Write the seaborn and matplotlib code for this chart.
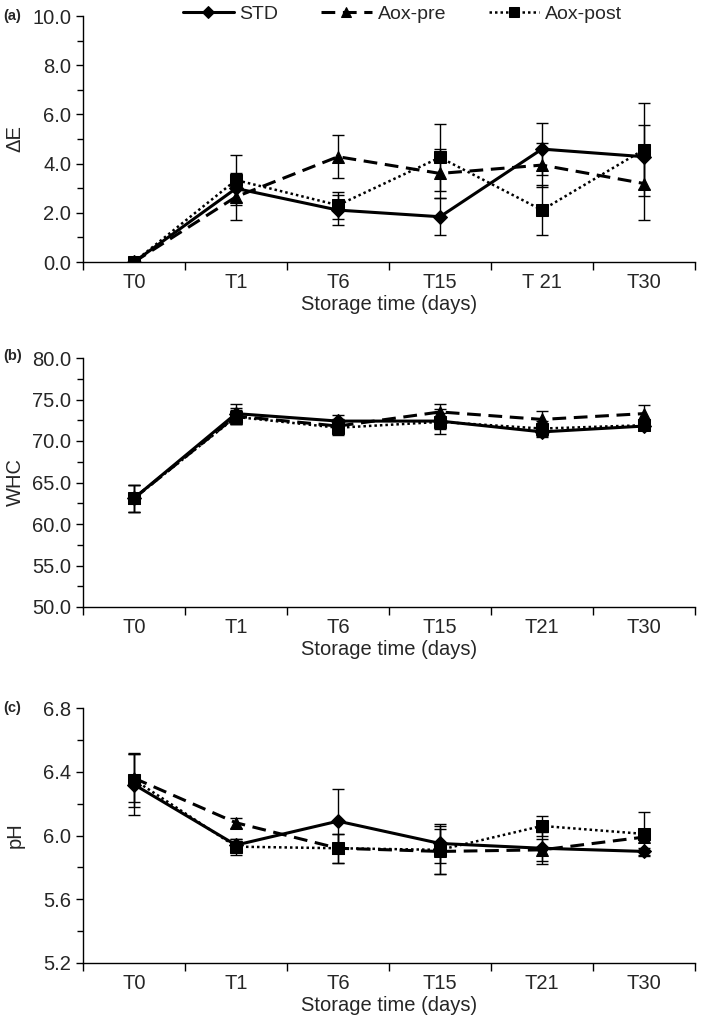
import numpy as np
import pandas as pd
import seaborn as sns
import matplotlib
matplotlib.use("Agg")
import matplotlib.pyplot as plt
from matplotlib.ticker import MultipleLocator, FixedLocator, FormatStrFormatter

sns.set_theme(style="ticks")
plt.rcParams['font.family'] = ['Liberation Sans', 'DejaVu Sans']

# ---------------- data ----------------
series = ["STD", "Aox-pre", "Aox-post"]
time_a = ["T0", "T1", "T6", "T15", "T 21", "T30"]
time_bc = ["T0", "T1", "T6", "T15", "T21", "T30"]

de_std = [0.0, 2.99, 2.11, 1.84, 4.59, 4.28]
de_std_err = [0.0, 0.55, 0.60, 0.75, 1.05, 1.30]
de_pre = [0.0, 2.65, 4.28, 3.60, 3.94, 3.19]
de_pre_err = [0.0, 0.95, 0.88, 1.00, 0.90, 1.50]
de_post = [0.0, 3.33, 2.31, 4.25, 2.11, 4.57]
de_post_err = [0.0, 1.00, 0.55, 1.35, 1.00, 1.90]

whc_std = [63.1, 73.3, 72.4, 72.4, 71.1, 71.8]
whc_std_err = [1.6, 1.2, 0.7, 1.0, 0.6, 0.5]
whc_pre = [63.1, 73.0, 71.8, 73.5, 72.6, 73.3]
whc_pre_err = [1.6, 1.0, 0.8, 1.0, 1.0, 1.0]
whc_post = [63.1, 72.9, 71.6, 72.3, 71.5, 71.9]
whc_post_err = [1.6, 0.8, 0.9, 1.5, 0.9, 0.6]

ph_std = [6.32, 5.94, 6.09, 5.95, 5.92, 5.90]
ph_std_err = [0.19, 0.04, 0.20, 0.12, 0.10, 0.02]
ph_pre = [6.36, 6.08, 5.92, 5.90, 5.91, 5.99]
ph_pre_err = [0.15, 0.03, 0.09, 0.14, 0.07, 0.02]
ph_post = [6.35, 5.93, 5.92, 5.91, 6.06, 6.01]
ph_post_err = [0.17, 0.05, 0.09, 0.15, 0.06, 0.14]

# ---------------- styles ----------------
styles = {
    "STD": dict(linestyle="-", marker="D", markersize=7, lw=2.2),
    "Aox-pre": dict(linestyle=(0, (4.5, 2.5)), marker="^", markersize=9, lw=2.2),
    "Aox-post": dict(linestyle=(0, (1, 1.2)), marker="s", markersize=9, lw=1.8),
}

FS = 14.5

fig = plt.figure(figsize=(7.09, 10.24), dpi=100)
L, W = 83 / 709, (695 - 83) / 709
ax_a = fig.add_axes([L, 1 - 262 / 1024, W, (262 - 16) / 1024])
ax_b = fig.add_axes([L, 1 - 607 / 1024, W, (607 - 358) / 1024])
ax_c = fig.add_axes([L, 1 - 963 / 1024, W, (963 - 708) / 1024])

panels = [
    (ax_a, time_a, [(de_std, de_std_err), (de_pre, de_pre_err), (de_post, de_post_err)],
     "\u0394E", (0, 10), 2.0, 1.0, "%.1f", "(a)", 16),
    (ax_b, time_bc, [(whc_std, whc_std_err), (whc_pre, whc_pre_err), (whc_post, whc_post_err)],
     "WHC", (50, 80), 5.0, 2.5, "%.1f", "(b)", 356),
    (ax_c, time_bc, [(ph_std, ph_std_err), (ph_pre, ph_pre_err), (ph_post, ph_post_err)],
     "pH", (5.2, 6.8), 0.4, 0.2, "%.1f", "(c)", 708),
]

for ax, cats, data, ylab, ylim, maj, mnr, fmt, tag, tag_y in panels:
    for name, (vals, errs) in zip(series, data):
        st = styles[name]
        ax.errorbar(cats, vals, yerr=errs, fmt="none", ecolor="black",
                    elinewidth=1.0, capsize=4, capthick=1.0, zorder=2)
        sns.lineplot(x=cats, y=vals, ax=ax, color="black", sort=False,
                     linestyle=st["linestyle"], linewidth=st["lw"],
                     marker=st["marker"], markersize=st["markersize"],
                     markeredgecolor="black", markerfacecolor="black",
                     label=name, zorder=3)
    if ax.get_legend() is not None:
        ax.get_legend().remove()
    ax.set_xlim(-0.5, len(cats) - 0.5)
    ax.set_ylim(*ylim)
    ax.yaxis.set_major_locator(MultipleLocator(maj))
    ax.yaxis.set_minor_locator(MultipleLocator(mnr))
    ax.yaxis.set_major_formatter(FormatStrFormatter(fmt))
    ax.xaxis.set_minor_locator(FixedLocator(np.arange(-0.5, len(cats), 1.0)))
    ax.tick_params(axis="x", which="major", length=0, labelsize=FS, pad=8)
    ax.tick_params(axis="x", which="minor", length=6, width=1, direction="out", color="black")
    ax.tick_params(axis="y", which="major", length=5, width=1, direction="out", labelsize=FS, color="black")
    ax.tick_params(axis="y", which="minor", length=4, width=1, direction="out", color="black")
    for s in ["top", "right"]:
        ax.spines[s].set_visible(False)
    for s in ["left", "bottom"]:
        ax.spines[s].set_color("black")
        ax.spines[s].set_linewidth(1.0)
    ax.set_xlabel("Storage time (days)", fontsize=FS, labelpad=2)
    ax.set_ylabel(ylab, fontsize=FS)
    ax.yaxis.set_label_coords(-0.095, 0.5)
    fig.text(3 / 709, 1 - tag_y / 1024, tag, fontsize=10.5, fontweight="bold", va="center", ha="left")

handles, labels = ax_a.get_legend_handles_labels()
fig.legend(handles, labels, loc="upper center", bbox_to_anchor=(0.568, 1.012), ncol=3,
           frameon=False, fontsize=14, handlelength=2.6, columnspacing=2.2,
           handletextpad=0.3, markerscale=0.85)

fig.savefig("out.png", dpi=100)
